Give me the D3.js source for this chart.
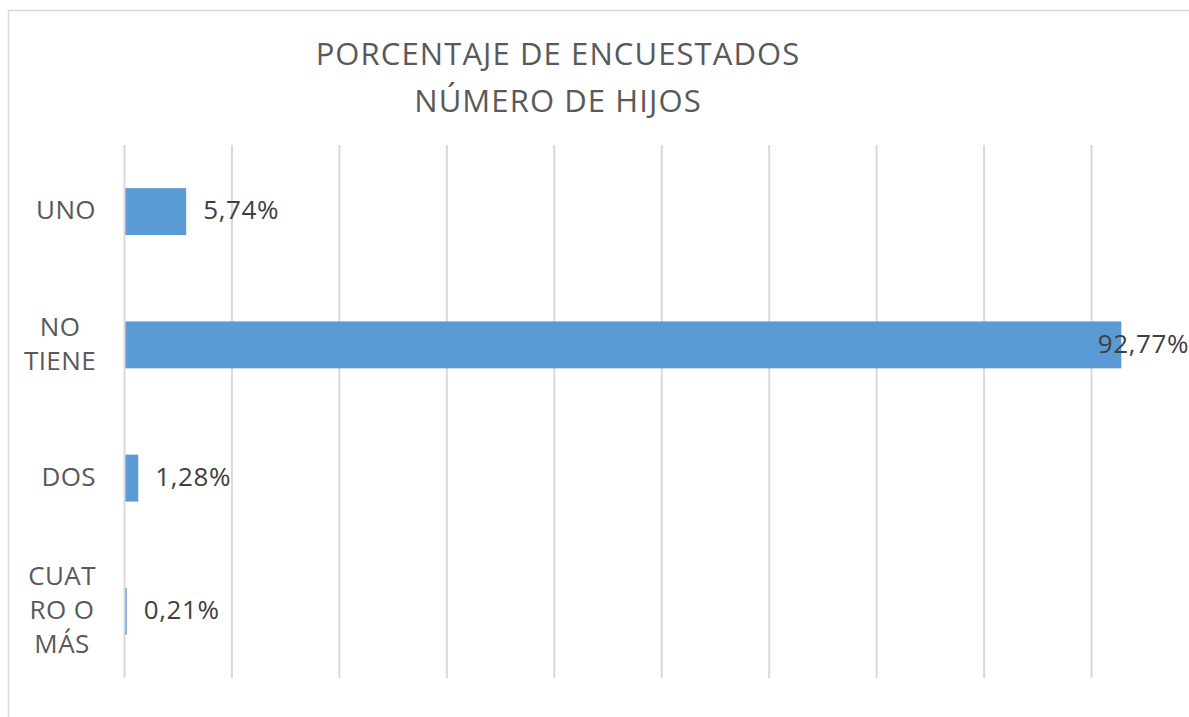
<!DOCTYPE html>
<html>
<head>
<meta charset="utf-8">
<script src="https://cdn.jsdelivr.net/npm/d3@7"></script>
<style>
  body { margin: 0; background: #fff; }
  svg { display: block; font-family: "Open Sans", sans-serif; }
</style>
</head>
<body>
<div id="chart"></div>
<script>
const titleLines = ['PORCENTAJE DE ENCUESTADOS', 'NÚMERO DE HIJOS'];
const categories = ['UNO', 'NO TIENE', 'DOS', 'CUATRO O MÁS'];
const categoryLines = [['UNO'], ['NO', 'TIENE'], ['DOS'], ['CUAT', 'RO O', 'MÁS']];
const values = [5.74, 92.77, 1.28, 0.21];
const xTicks = [0, 10, 20, 30, 40, 50, 60, 70, 80, 90, 100];

const W = 1189, H = 717;
const margin = {top: 145, right: -10, bottom: 39, left: 124.5};

const svg = d3.select('#chart').append('svg')
  .attr('width', W)
  .attr('height', H);

svg.append('rect')
  .attr('width', W).attr('height', H)
  .attr('fill', '#fff');

// chart area border (only left and top visible)
svg.append('rect')
  .attr('x', 8.5).attr('y', 10.5)
  .attr('width', W + 20).attr('height', H + 20)
  .attr('fill', 'none')
  .attr('stroke', '#d9d9d9')
  .attr('stroke-width', 1.5);

const xScale = d3.scaleLinear().domain([0, 100]).range([margin.left, W - margin.right]);
const yScale = d3.scaleBand().domain(categories)
  .range([margin.top, H - margin.bottom])
  .paddingInner(0.648).paddingOuter(0.324);

// bars
svg.append('g')
  .selectAll('rect')
  .data(values)
  .enter().append('rect')
  .attr('x', xScale(0))
  .attr('y', (d, i) => yScale(categories[i]))
  .attr('width', d => xScale(d) - xScale(0))
  .attr('height', yScale.bandwidth())
  .attr('fill', '#5b9bd5');

// gridlines (drawn over the bar bases like the original)
svg.append('g')
  .selectAll('line')
  .data(xTicks)
  .enter().append('line')
  .attr('x1', d => xScale(d)).attr('x2', d => xScale(d))
  .attr('y1', margin.top).attr('y2', H - margin.bottom)
  .attr('stroke', '#d9d9d9')
  .attr('stroke-width', 2)
  .attr('display', d => d === 0 ? null : 'none');

svg.append('g')
  .lower()
  .selectAll('line')
  .data(xTicks.filter(d => d > 0))
  .enter().append('line')
  .attr('x1', d => xScale(d)).attr('x2', d => xScale(d))
  .attr('y1', margin.top).attr('y2', H - margin.bottom)
  .attr('stroke', '#d9d9d9')
  .attr('stroke-width', 2);
svg.select('rect').lower();

// value labels
const fmt = d3.formatLocale({decimal: ',', thousands: '.', grouping: [3], currency: ['', '€']}).format('.2f');
svg.append('g')
  .selectAll('text')
  .data(values)
  .enter().append('text')
  .attr('y', (d, i) => yScale(categories[i]) + yScale.bandwidth() / 2)
  .attr('dy', '0.3em')
  .attr('fill', '#404040')
  .style('font-size', '26px')
  .style('letter-spacing', '0.6px')
  .text(d => fmt(d) + '%')
  .attr('x', function(d) {
    const w = this.getComputedTextLength();
    return Math.min(xScale(d) + 17, W - w);
  });

// category labels
const catG = svg.append('g');
categoryLines.forEach((lines, i) => {
  const cy = yScale(categories[i]) + yScale.bandwidth() / 2;
  const lh = 34;
  const t = catG.append('text')
    .attr('fill', '#595959')
    .style('font-size', '26px')
    .style('letter-spacing', '0.4px')
    .attr('text-anchor', 'middle');
  lines.forEach((s, j) => {
    t.append('tspan')
      .attr('x', 0)
      .attr('y', cy + (j - (lines.length - 1) / 2) * lh)
      .attr('dy', '0.3em')
      .text(s);
  });
  const bw = t.node().getBBox().width;
  t.selectAll('tspan').attr('x', 96 - bw / 2);
});

// title
svg.append('g')
  .selectAll('text')
  .data(titleLines)
  .enter().append('text')
  .attr('x', 558)
  .attr('y', (d, i) => 65 + i * 47)
  .attr('text-anchor', 'middle')
  .attr('fill', '#595959')
  .style('font-size', '31px')
  .style('letter-spacing', '1.1px')
  .text(d => d);
</script>
</body>
</html>
